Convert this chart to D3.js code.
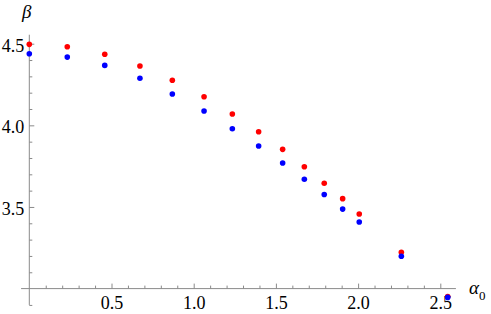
<!DOCTYPE html>
<html>
<head>
<meta charset="utf-8">
<script src="https://cdn.jsdelivr.net/npm/d3@7"></script>
<style>
  body { margin: 0; background: #fff; }
  svg { display: block; }
  svg text { font-family: "Liberation Serif", "Times New Roman", Times, Tinos, "Nimbus Roman", "Nimbus Roman No9 L", "Noto Serif", FreeSerif, "DejaVu Serif", serif; }
  .tick text { font-size: 18px; fill: #000; }
  .tick line { stroke: #8a8a8a; }
</style>
</head>
<body>
<svg id="plot" width="491" height="314"></svg>
<script>
// alpha_0 values (shared by both series)
const alpha0 = [0, 0.231, 0.459, 0.673, 0.870, 1.063, 1.235, 1.395, 1.541, 1.673, 1.794, 1.906, 2.007, 2.263, 2.545];
// beta, red series
const betaRed = [4.496, 4.481, 4.435, 4.363, 4.276, 4.175, 4.069, 3.961, 3.853, 3.746, 3.645, 3.551, 3.457, 3.222, 2.951];
// beta, blue series
const betaBlue = [4.438, 4.418, 4.367, 4.288, 4.192, 4.088, 3.979, 3.873, 3.769, 3.670, 3.576, 3.487, 3.408, 3.198, 2.946];

const xMajor = [0.5, 1.0, 1.5, 2.0, 2.5];
const yMajor = [3.5, 4.0, 4.5];

const svg = d3.select("svg#plot");

// scales: same number of pixels per unit on both axes
const xScale = d3.scaleLinear().domain([0, 2.5]).range([29.3, 440.3]);
const yScale = d3.scaleLinear().domain([3.0, 4.5]).range([288.6, 43.7]);

const xOrigin = 0, yOrigin = 3.0;
const xMinor = d3.range(1, 26).map(i => i / 10).filter(v => xMajor.indexOf(v) < 0);
const yMinor = d3.range(29, 46).map(i => i / 10).filter(v => yMajor.indexOf(v) < 0 && v !== yOrigin);

const axisColor = "#8a8a8a";

// axis lines
svg.append("line")
    .attr("x1", xScale(-0.05)).attr("x2", xScale(2.595))
    .attr("y1", yScale(yOrigin)).attr("y2", yScale(yOrigin))
    .attr("stroke", axisColor);
svg.append("line")
    .attr("x1", xScale(xOrigin)).attr("x2", xScale(xOrigin))
    .attr("y1", yScale(2.9)).attr("y2", yScale(4.555))
    .attr("stroke", axisColor);

// x ticks
svg.append("g")
    .attr("transform", `translate(0,${yScale(yOrigin)})`)
    .call(d3.axisBottom(xScale).tickValues(xMinor).tickSize(-3).tickFormat(""))
    .call(g => g.select(".domain").remove());
svg.append("g")
    .attr("transform", `translate(0,${yScale(yOrigin)})`)
    .call(d3.axisBottom(xScale).tickValues(xMajor).tickSize(-5).tickPadding(8).tickFormat(d3.format(".1f")))
    .call(g => g.select(".domain").remove())
    .call(g => g.selectAll("text").attr("fill", "#000"));

// y ticks
svg.append("g")
    .attr("transform", `translate(${xScale(xOrigin)},0)`)
    .call(d3.axisLeft(yScale).tickValues(yMinor).tickSize(-3).tickFormat(""))
    .call(g => g.select(".domain").remove());
svg.append("g")
    .attr("transform", `translate(${xScale(xOrigin)},0)`)
    .call(d3.axisLeft(yScale).tickValues(yMajor).tickSize(-5).tickPadding(5).tickFormat(d3.format(".1f")))
    .call(g => g.select(".domain").remove())
    .call(g => g.selectAll("text").attr("dy", "0.42em").attr("fill", "#000"));

svg.selectAll("g").attr("font-family", null);
svg.selectAll(".tick line").attr("stroke", axisColor);

// axis labels
svg.append("text")
    .attr("x", 22).attr("y", 18)
    .attr("font-style", "italic")
    .attr("font-size", 19)
    .text("β");

const aLabel = svg.append("text")
    .attr("x", 469).attr("y", 294)
    .attr("font-size", 19);
aLabel.append("tspan").attr("font-style", "italic").text("α");
aLabel.append("tspan").attr("font-size", 13).attr("dy", 6).text("0");

// points: red first, blue drawn on top
const series = [
    { values: betaRed, color: "#ff0000" },
    { values: betaBlue, color: "#0000ff" }
];

series.forEach(s => {
    svg.append("g")
        .selectAll("circle")
        .data(alpha0.map((a, i) => [a, s.values[i]]))
        .enter()
        .append("circle")
        .attr("cx", d => xScale(d[0]))
        .attr("cy", d => yScale(d[1]))
        .attr("r", 2.8)
        .attr("fill", s.color);
});
</script>
</body>
</html>
